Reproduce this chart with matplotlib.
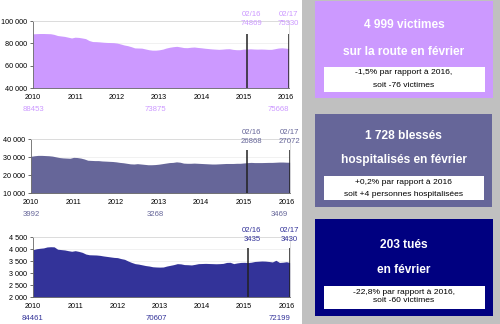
"""Road safety dashboard: 12-month rolling totals and monthly summary boxes."""

import matplotlib

matplotlib.use("Agg")
import matplotlib.pyplot as plt
import numpy as np
from matplotlib.patches import Rectangle

plt.rcParams["font.family"] = ["Liberation Sans", "DejaVu Sans"]

W, H = 500, 324

year_labels = ["2010", "2011", "2012", "2013", "2014", "2015", "2016"]

victimes = [
    88500, 88700, 88800, 88800, 88700, 88600, 88000, 87000, 86600, 86200, 85500, 84800,
    85500, 85300, 84800, 84200, 82500, 81600, 81500, 81300, 81000, 80800, 80700, 80600,
    80200, 79400, 78500, 77900, 77000, 75900, 75800, 75700, 75000, 74300, 73900, 73875,
    74200, 74800, 75800, 76500, 77000, 77300, 76800, 76200, 76100, 76500, 76700, 76300,
    76000, 75600, 75300, 75000, 74800, 74600, 74800, 75100, 75200, 74600, 74300, 74300,
    74800, 74869, 75100, 74900, 74800, 74900, 74800, 74600, 74600, 75200, 75800, 76000,
    75700, 75330,
]
blesses = [
    30400, 30700, 30900, 30900, 30800, 30700, 30500, 30100, 29700, 29500, 29400, 29300,
    29800, 29700, 29400, 28900, 28200, 28100, 28000, 28000, 27800, 27700, 27600, 27500,
    27300, 27000, 26800, 26500, 26200, 26100, 26300, 26100, 25900, 25700, 25700, 25800,
    26000, 26300, 26600, 26900, 27000, 27300, 27100, 26600, 26500, 26500, 26600, 26500,
    26400, 26300, 26200, 26100, 26100, 26200, 26300, 26400, 26400, 26400, 26500, 26500,
    26700, 26868, 27000, 26900, 26900, 26900, 26950, 27000, 27000, 27100, 27200, 27200,
    27100, 27072,
]
tues = [
    3970, 4010, 4030, 4045, 4085, 4095, 4090, 3990, 3975, 3960, 3930, 3905,
    3930, 3900, 3860, 3790, 3760, 3755, 3750, 3735, 3710, 3690, 3670, 3650,
    3640, 3600, 3570, 3500, 3440, 3390, 3370, 3340, 3310, 3290, 3260, 3250,
    3245, 3250, 3290, 3320, 3350, 3390, 3380, 3350, 3345, 3335, 3360, 3390,
    3395, 3400, 3395, 3390, 3385, 3390, 3400, 3440, 3445, 3390, 3420, 3440,
    3445, 3435, 3450, 3480, 3490, 3500, 3495, 3480, 3460, 3530, 3440, 3450,
    3470, 3430,
]

marker_labels = ["02/16", "02/17"]
marker_idx = [61, 73]

victimes_marks = ["74869", "75330"]
blesses_marks = ["26868", "27072"]
tues_marks = ["3435", "3430"]

victimes_notes = ["88453", "73875", "75668"]
blesses_notes = ["3992", "3268", "3469"]
tues_notes = ["84461", "70607", "72199"]
note_idx = [0, 35, 70]

victimes_ticks = [40000, 60000, 80000, 100000]
blesses_ticks = [10000, 20000, 30000, 40000]
tues_ticks = [2000, 2500, 3000, 3500, 4000, 4500]

box_titles = [
    ("4 999 victimes", "sur la route en février"),
    ("1 728 blessés", "hospitalisés en février"),
    ("203 tués", "en février"),
]
box_notes = [
    ("-1,5% par rapport à 2016,", "soit -76 victimes"),
    ("+0,2% par rapport à 2016", "soit +4 personnes hospitalisées"),
    ("-22,8% par rapport à 2016,", "soit -60 victimes"),
]

LAVENDER = "#CC99FF"
SLATE = "#666699"
INDIGO = "#333399"
NAVY = "#000080"


def fmt(v):
    return f"{v:,.0f}".replace(",", " ")


def px_axes(fig, left, top, right, bottom):
    return fig.add_axes([left / W, (H - bottom) / H, (right - left) / W, (bottom - top) / H])


def draw_chart(fig, rect, values, ticks, line_top, color, marks, notes):
    ax = px_axes(fig, *rect)
    x = np.arange(len(values))
    ax.fill_between(x, values, ticks[0], color=color, linewidth=0, zorder=2)
    ax.set_xlim(0, len(values) - 1)
    ax.set_ylim(ticks[0], ticks[-1])
    ax.set_yticks(ticks)
    ax.set_yticklabels([fmt(t) for t in ticks])
    ax.set_xticks(np.arange(len(year_labels)) * 12)
    ax.set_xticklabels(year_labels)
    ax.tick_params(axis="y", labelsize=5.2, length=2.5, width=0.6, pad=1.5, color="#555555")
    ax.tick_params(axis="x", labelsize=5.2, length=0, pad=4)
    ax.grid(axis="y", color="#EFEFEF", linewidth=0.6, zorder=0)
    for side in ("top", "right"):
        ax.spines[side].set_color("#D8D8D8")
        ax.spines[side].set_linewidth(0.6)
    for side in ("left", "bottom"):
        ax.spines[side].set_color("#666666")
        ax.spines[side].set_linewidth(0.6)
    ax.vlines(marker_idx, ticks[0], line_top, color="#222222", linewidth=1.1, zorder=3)
    for i, lab, val, dx in zip(marker_idx, marker_labels, marks, (3, -0.5)):
        ax.annotate(lab, (i, 1), xycoords=("data", "axes fraction"), xytext=(dx, 2.5),
                    textcoords="offset points", ha="center", va="bottom",
                    fontsize=5.6, color=color, annotation_clip=False)
        ax.annotate(val, (i, 1), xycoords=("data", "axes fraction"), xytext=(dx, -4.5),
                    textcoords="offset points", ha="center", va="bottom",
                    fontsize=5.6, color=color, annotation_clip=False)
    for i, val in zip(note_idx, notes):
        ax.annotate(val, (i, 0), xycoords=("data", "axes fraction"), xytext=(0, -15.5),
                    textcoords="offset points", ha="center", va="center",
                    fontsize=5.6, color=color, annotation_clip=False)
    return ax


def draw_box(fig, box, inner, color, titles, title_y, notes, note_y):
    def rect(l, t, r, b, fc):
        fig.patches.append(Rectangle((l / W, (H - b) / H), (r - l) / W, (b - t) / H,
                                     transform=fig.transFigure, facecolor=fc,
                                     edgecolor="none", zorder=1))

    rect(*box, color)
    rect(*inner, "white")
    cx = (box[0] + box[2]) / 2 / W
    for txt, y in zip(titles, title_y):
        fig.text(cx, (H - y) / H, txt, ha="center", va="center", fontsize=8.6,
                 fontweight="bold", color="white")
    for txt, y in zip(notes, note_y):
        fig.text(cx, (H - y) / H, txt, ha="center", va="center", fontsize=6.1,
                 color="black")


fig = plt.figure(figsize=(W / 100, H / 100), dpi=100)
fig.patches.append(Rectangle((302 / W, 0), 198 / W, 1, transform=fig.transFigure,
                             facecolor="#C0C0C0", edgecolor="none", zorder=0))

draw_chart(fig, (33, 21, 289, 88), victimes, victimes_ticks, 88500, LAVENDER,
           victimes_marks, victimes_notes)
draw_chart(fig, (31, 139, 290, 193), blesses, blesses_ticks, 34000, SLATE,
           blesses_marks, blesses_notes)
draw_chart(fig, (33, 237, 290, 297), tues, tues_ticks, 4040, INDIGO,
           tues_marks, tues_notes)

draw_box(fig, (315, 1, 493, 98), (324, 67, 485, 92), LAVENDER,
         box_titles[0], (25, 52), box_notes[0], (72.5, 85))
draw_box(fig, (315, 114, 492, 207), (324, 176, 484, 200), SLATE,
         box_titles[1], (136, 160), box_notes[1], (182, 194))
draw_box(fig, (315, 219, 493, 316), (324, 286, 485, 309), NAVY,
         box_titles[2], (245, 270), box_notes[2], (292, 301))

fig.savefig("out.png", dpi=100)
plt.close(fig)
